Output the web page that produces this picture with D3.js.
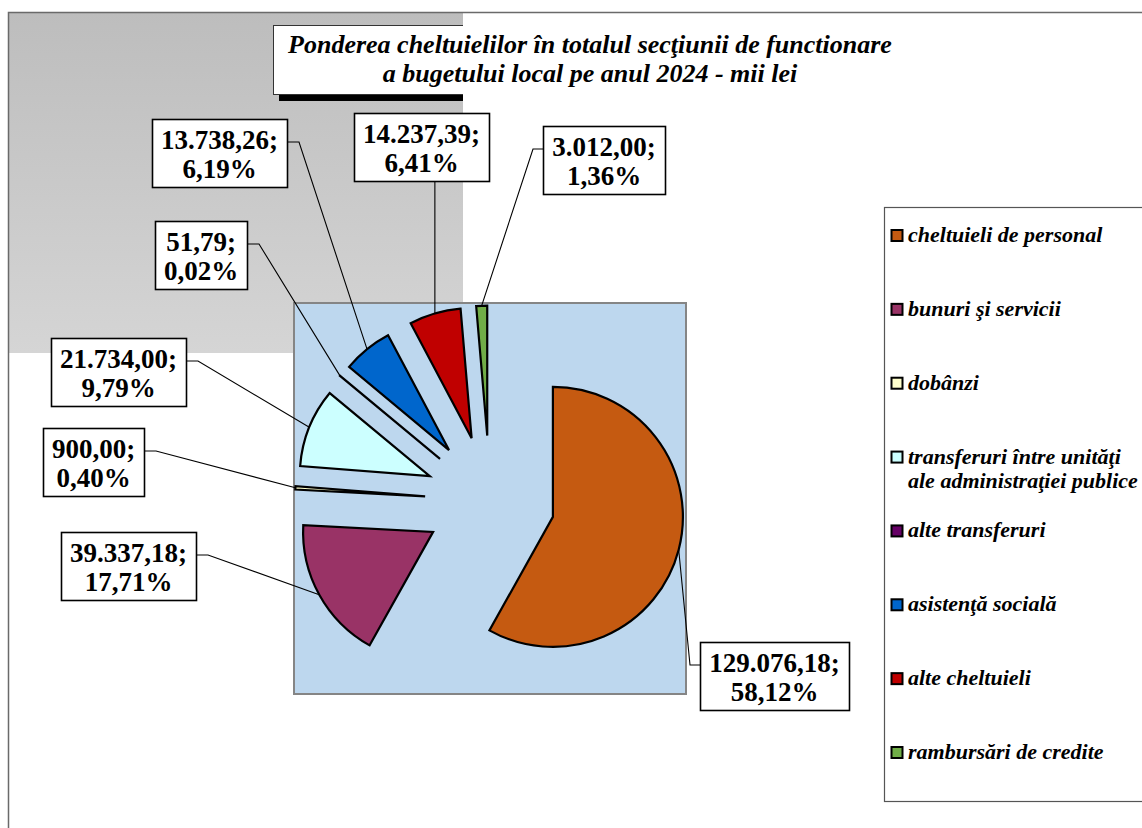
<!DOCTYPE html>
<html>
<head>
<meta charset="utf-8">
<script src="https://cdn.jsdelivr.net/npm/d3@7"></script>
<style>
  html, body { margin: 0; padding: 0; background: #fff; }
  svg { display: block; }
  text { font-family: "Liberation Serif", "Times New Roman", serif; }
</style>
</head>
<body>
<div id="chart"></div>
<script>
// Data
const categories = [
    'cheltuieli de personal',
    'bunuri şi servicii',
    'dobânzi',
    'transferuri între unităţi|ale administraţiei publice',
    'alte transferuri',
    'asistenţă socială',
    'alte cheltuieli',
    'rambursări de credite'
];
const values = [129076.18, 39337.18, 900.00, 21734.00, 51.79, 13738.26, 14237.39, 3012.00];
const percentLabels = ['58,12%', '17,71%', '0,40%', '9,79%', '0,02%', '6,19%', '6,41%', '1,36%'];
const colors = ['#C55A11', '#993366', '#FFFFCC', '#CCFFFF', '#660066', '#0066CC', '#C00000', '#70AD47'];
const titleLines = [
    'Ponderea cheltuielilor în totalul secţiunii de functionare',
    'a bugetului local pe anul 2024 - mii lei'
];

// Label box placement (top-left) and which side the leader leaves from
const labelPos = [[700, 642], [61, 532], [43, 428], [51, 338], [155, 221], [152, 119], [354, 113], [543, 126]];
const labelSide = ['left', 'right', 'right', 'right', 'right', 'right', 'bottom', 'left'];

const W = 1142, H = 828;
const ro = d3.formatLocale({ decimal: ',', thousands: '.', grouping: [3], currency: ['', ''] });
const fmt = ro.format(',.2f');

const svg = d3.select('#chart').append('svg')
    .attr('width', W)
    .attr('height', H);

const defs = svg.append('defs');
const grad = defs.append('linearGradient')
    .attr('id', 'greyGrad')
    .attr('x1', 0).attr('y1', 0).attr('x2', 0).attr('y2', 1);
grad.append('stop').attr('offset', '0%').attr('stop-color', '#bdbdbd');
grad.append('stop').attr('offset', '100%').attr('stop-color', '#d5d5d5');

defs.append('clipPath').attr('id', 'greyClip')
    .append('rect').attr('x', 8).attr('y', 12).attr('width', 455).attr('height', 341);

svg.append('rect').attr('width', W).attr('height', H).attr('fill', '#fff');

// grey backdrop piece top-left
svg.append('rect')
    .attr('x', 9).attr('y', 13).attr('width', 454).attr('height', 340)
    .attr('fill', 'url(#greyGrad)');

// outer chart border (only top and left visible)
svg.append('path')
    .attr('d', `M8.5,${H} V12.5 H${W}`)
    .attr('fill', 'none')
    .attr('stroke', '#6a6a6a')
    .attr('stroke-width', 1.5);

// Title box: border & shadow only survive over the grey part
const titleBox = { x: 273, y: 25, w: 640, h: 69 };
const tb = svg.append('g').attr('clip-path', 'url(#greyClip)');
tb.append('rect')
    .attr('x', titleBox.x + 6).attr('y', titleBox.y + titleBox.h + 1)
    .attr('width', titleBox.w).attr('height', 6)
    .attr('fill', '#000');
tb.append('rect')
    .attr('x', titleBox.x + 0.5).attr('y', titleBox.y + 0.5)
    .attr('width', titleBox.w).attr('height', titleBox.h)
    .attr('fill', '#fff')
    .attr('stroke', '#333')
    .attr('stroke-width', 1);
svg.append('rect')
    .attr('x', 463).attr('y', titleBox.y + 1)
    .attr('width', titleBox.w).attr('height', titleBox.h - 1)
    .attr('fill', '#fff');

svg.append('g').selectAll('text')
    .data(titleLines)
    .enter()
    .append('text')
    .attr('x', 590)
    .attr('y', (d, i) => 53 + i * 29)
    .attr('text-anchor', 'middle')
    .attr('font-size', 26)
    .attr('font-weight', 'bold')
    .attr('font-style', 'italic')
    .text(d => d);

// Plot area
const plot = { x: 294, y: 303, w: 392, h: 391 };
svg.append('rect')
    .attr('x', plot.x).attr('y', plot.y)
    .attr('width', plot.w).attr('height', plot.h)
    .attr('fill', '#BDD7EE')
    .attr('stroke', '#858585')
    .attr('stroke-width', 2);

const cx = plot.x + plot.w / 2;
const cy = plot.y + plot.h / 2 + 2;
const radius = 130;
const explode = 65;

const pie = d3.pie().sort(null).value(d => d)(values);
const arc = d3.arc().innerRadius(0).outerRadius(radius);

const offset = (d, r) => {
    const a = (d.startAngle + d.endAngle) / 2;
    return [Math.sin(a) * r, -Math.cos(a) * r];
};

const pieG = svg.append('g').attr('transform', `translate(${cx},${cy})`);
pieG.selectAll('path')
    .data(pie)
    .enter()
    .append('path')
    .attr('d', arc)
    .attr('transform', d => `translate(${offset(d, explode)})`)
    .attr('fill', (d, i) => colors[i])
    .attr('stroke', '#000')
    .attr('stroke-width', 2.2)
    .attr('stroke-linejoin', 'miter');

// Data labels
const labelG = svg.append('g');
const boxH = 68;
pie.forEach((d, i) => {
    const [lx, ly] = labelPos[i];
    const g = labelG.append('g');
    const lines = [fmt(values[i]) + ';', percentLabels[i]];
    const texts = g.selectAll('text')
        .data(lines)
        .enter()
        .append('text')
        .attr('y', (t, j) => ly + 30 + j * 29)
        .attr('text-anchor', 'middle')
        .attr('font-size', 27)
        .attr('font-weight', 'bold')
        .text(t => t);
    const tw = d3.max(texts.nodes(), n => n.getComputedTextLength());
    const bw = Math.round(tw + 18);
    texts.attr('x', lx + bw / 2);
    g.insert('rect', 'text')
        .attr('x', lx + 0.5).attr('y', ly + 0.5)
        .attr('width', bw).attr('height', boxH)
        .attr('fill', '#fff')
        .attr('stroke', '#000')
        .attr('stroke-width', 1.6);

    const [ox, oy] = offset(d, explode + radius);
    const tx = cx + ox, ty = cy + oy;
    let pts;
    if (labelSide[i] === 'right') {
        pts = [[lx + bw, ly + 23], [lx + bw + 12, ly + 23], [tx, ty]];
    } else if (labelSide[i] === 'left') {
        pts = [[lx, ly + 23], [lx - 10, ly + 23], [tx, ty]];
    } else {
        pts = [[tx, ly + boxH], [tx, ty]];
    }
    labelG.insert('path', 'g')
        .attr('d', d3.line()(pts))
        .attr('fill', 'none')
        .attr('stroke', '#000')
        .attr('stroke-width', 1.1);
});

// Legend
const legend = { x: 884, y: 207, w: 270, h: 594 };
svg.append('rect')
    .attr('x', legend.x + 0.5).attr('y', legend.y + 0.5)
    .attr('width', legend.w).attr('height', legend.h)
    .attr('fill', '#fff')
    .attr('stroke', '#555')
    .attr('stroke-width', 1.2);

const ly = d3.scaleLinear().domain([0, categories.length - 1]).range([236, 753]);
const items = svg.append('g').selectAll('g')
    .data(categories)
    .enter()
    .append('g')
    .attr('transform', (d, i) => `translate(${legend.x + 7},${ly(i)})`);

items.append('rect')
    .attr('x', 0.5).attr('y', -6)
    .attr('width', 11).attr('height', 11)
    .attr('fill', (d, i) => colors[i])
    .attr('stroke', '#000')
    .attr('stroke-width', 2);

items.each(function (d) {
    d3.select(this).selectAll('text')
        .data(d.split('|'))
        .enter()
        .append('text')
        .attr('x', 17)
        .attr('y', (t, j) => 6 + j * 24)
        .attr('font-size', 22)
        .attr('font-weight', 'bold')
        .attr('font-style', 'italic')
        .text(t => t);
});
</script>
</body>
</html>
